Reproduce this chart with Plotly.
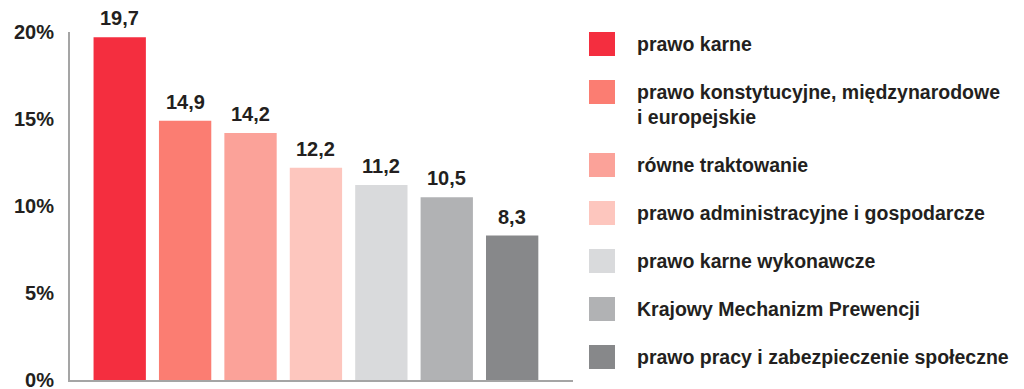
import plotly.graph_objects as go

categories = [
    "prawo karne",
    "prawo konstytucyjne, międzynarodowe<br>i europejskie",
    "równe traktowanie",
    "prawo administracyjne i gospodarcze",
    "prawo karne wykonawcze",
    "Krajowy Mechanizm Prewencji",
    "prawo pracy i zabezpieczenie społeczne",
]
values = [19.7, 14.9, 14.2, 12.2, 11.2, 10.5, 8.3]
colors = ["#F42E3F", "#FB7D72", "#FBA299", "#FDC6BE", "#D9DADC", "#B1B2B4", "#87888A"]
y_ticks = [0, 5, 10, 15, 20]

FONT = "Liberation Sans"
TXT = "#231F20"

# the page body adds an 8px margin, so every pixel position is shifted by it
OFF = 8
W, H = 1024 - OFF, 389
L, R, T, B = 70 - OFF, 573 - OFF, 32 - OFF, 380 - OFF


def px_x(px):
    return (px - OFF - L) / (R - L)


def px_y(py):
    return (B - (py - OFF)) / (B - T)


fig = go.Figure()

for i, (cat, val, col) in enumerate(zip(categories, values, colors)):
    fig.add_trace(go.Bar(
        x=[i], y=[val],
        marker=dict(color=col, line=dict(width=0)),
        width=0.8,
        name=cat.replace("<br>", " "),
        showlegend=False,
        hoverinfo="name+y",
    ))

annotations = []
# value labels above the bars
for i, val in enumerate(values):
    annotations.append(dict(
        x=i, y=val, xref="x", yref="y",
        text="<b>" + f"{val:.1f}".replace(".", ",") + "</b>",
        showarrow=False, yanchor="bottom", yshift=6,
        font=dict(family=FONT, size=20, color=TXT),
    ))

# legend drawn by hand (big squares like the original)
shapes = []
y_top = 32
for cat, col in zip(categories, colors):
    lines = cat.count("<br>") + 1
    shapes.append(dict(
        type="rect", xref="paper", yref="paper",
        x0=px_x(589), x1=px_x(615), y0=px_y(y_top), y1=px_y(y_top + 24),
        fillcolor=col, line=dict(width=0),
    ))
    annotations.append(dict(
        x=px_x(635), y=px_y(y_top - 1), xref="paper", yref="paper",
        text="<b>" + cat.replace("<br>", "</b><br><b>") + "</b>",
        showarrow=False, xanchor="left", yanchor="top", align="left",
        font=dict(family=FONT, size=19.5, color=TXT),
    ))
    y_top += 48 + 25 * (lines - 1)

fig.update_layout(
    width=W, height=H,
    margin=dict(l=L, r=W - R, t=T, b=H - B, pad=0, autoexpand=False),
    paper_bgcolor="white",
    plot_bgcolor="white",
    barmode="overlay",
    showlegend=False,
    xaxis=dict(
        range=[-0.76, 6.93],
        automargin=False,
        showticklabels=False, showgrid=False, zeroline=False,
        showline=True, linecolor="#A5A5A5", linewidth=2,
        fixedrange=True,
    ),
    yaxis=dict(
        range=[0, 20],
        automargin=False,
        tickvals=y_ticks,
        ticktext=[f"<b>{v}%</b>" for v in y_ticks],
        tickfont=dict(family=FONT, size=20, color=TXT),
        ticklabelstandoff=10,
        showgrid=False, zeroline=False,
        showline=True, linecolor="#A5A5A5", linewidth=2,
        fixedrange=True,
    ),
    shapes=shapes,
    annotations=annotations,
)

fig.write_html("out.html")
